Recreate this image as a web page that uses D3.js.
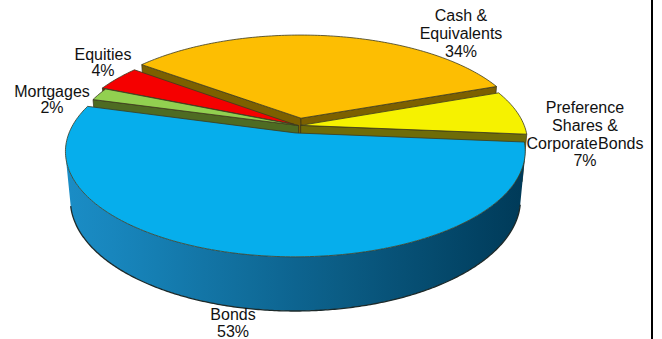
<!DOCTYPE html>
<html><head><meta charset="utf-8">
<script src="https://cdn.jsdelivr.net/npm/d3@7"></script>
<style>html,body{margin:0;padding:0;background:#fff;} svg{display:block}</style>
</head><body><svg id="chart" width="662" height="339"></svg>
<script>
// ---- data ----
const categories = ["Cash & Equivalents", "Preference Shares & Corporate Bonds", "Bonds", "Mortgages", "Equities"];
const values = [34, 7, 53, 2, 4];
const labelLines = [["Cash &", "Equivalents"], ["Preference", "Shares &", "Corporate Bonds"], ["Bonds"], ["Mortgages"], ["Equities"]];

// ---- styles / layout ----
const topColors = ["#FDBE02", "#F6F200", "#06AEEC", "#92D050", "#F50000"];
const faceColors = ["#7C6000", "#6F6C08", "#0A6A98", "#4E6B22", "#6A2400"];
const sideLight = ["#A07C00", "#9A9600", "#1A8DC6", "#5E8A2A", "#A00000"];
const sideDark = ["#5C4600", "#5A5800", "#003A58", "#35501A", "#5A0000"];
const explode = [0.075, 0.01, 0.075, 0.0, 0.02];
const labelAnchors = [[461, 21], [585, 113], [233, 320], [52, 96.5], [103, 59.5]];
const lineStep = [17.8, 17.8, 17, 16.7, 16.5];

const W = 662, H = 339;
const cx0 = 298.5, cy0 = 125.5;
const elev = 26.5 * Math.PI / 180, s = Math.sin(elev), c = Math.cos(elev);
const D = 5.21, F = 1164.6, depth = 0.24;
const startDeg = -52.6;

function proj(x, y, z) {
  const den = D - y * s - z * c;
  return [cx0 + F * x / den, cy0 - F * (y * c - z * s) / den];
}
const cam = [0, D * s, D * c];

const svg = d3.select("#chart");
const defs = svg.append("defs");
svg.append("rect").attr("width", W).attr("height", H).attr("fill", "#fff");

const pie = d3.pie().sort(null)
  .startAngle(startDeg * Math.PI / 180)
  .endAngle(startDeg * Math.PI / 180 + 2 * Math.PI);
const arcs = pie(values).map((a, i) => {
  const mid = (a.startAngle + a.endAngle) / 2;
  const e = explode[i];
  return {i, a0: a.startAngle, a1: a.endAngle, mid, ox: e * Math.sin(mid), oz: -e * Math.cos(mid)};
});

const line = d3.line();
function rim(d, phi, y) { return proj(d.ox + Math.sin(phi), y, d.oz - Math.cos(phi)); }

const order = arcs.slice().sort((p, q) => (p.oz - Math.cos(p.mid)) - (q.oz - Math.cos(q.mid)));
const g = svg.append("g");

order.forEach(d => {
  const sg = g.append("g");
  const h = -depth;
  const apexT = proj(d.ox, 0, d.oz), apexB = proj(d.ox, h, d.oz);
  // radial faces
  const faces = [
    {phi: d.a0, n: [-Math.cos(d.a0), -Math.sin(d.a0)]},
    {phi: d.a1, n: [Math.cos(d.a1), Math.sin(d.a1)]}
  ];
  faces.forEach(f => {
    const vis = f.n[0] * (cam[0] - d.ox) + f.n[1] * (cam[2] - d.oz);
    if (vis > 0) {
      const pts = [apexT, rim(d, f.phi, 0), rim(d, f.phi, h), apexB];
      sg.append("path").attr("d", line(pts) + "Z")
        .attr("fill", faceColors[d.i]).attr("stroke", "#3a3418").attr("stroke-width", 0.7);
    }
  });
  // outer wall: collect visible angle samples
  const steps = Math.max(2, Math.ceil((d.a1 - d.a0) / (Math.PI / 360)));
  const visPhis = [];
  for (let k = 0; k <= steps; k++) {
    const p = d.a0 + (d.a1 - d.a0) * k / steps;
    const px = d.ox + Math.sin(p), pz = d.oz - Math.cos(p);
    const vis = Math.sin(p) * (cam[0] - px) + (-Math.cos(p)) * (cam[2] - pz);
    if (vis > 0) visPhis.push(p);
  }
  if (visPhis.length > 1) {
    const topArc = visPhis.map(p => rim(d, p, 0));
    const botArc = visPhis.map(p => rim(d, p, h));
    const xs = topArc.map(p => p[0]).concat(botArc.map(p => p[0]));
    const x0 = d3.min(xs), x1 = d3.max(xs);
    const gid = "wall" + d.i;
    const grad = defs.append("linearGradient").attr("id", gid)
      .attr("gradientUnits", "userSpaceOnUse").attr("x1", x0).attr("x2", x1).attr("y1", 0).attr("y2", 0);
    const xScale = d3.scaleLinear().domain([cx0 - F / D, cx0 + F / D]).range([0, 1]).clamp(true);
    d3.range(0, 1.0001, 0.1).forEach(t => {
      const x = x0 + (x1 - x0) * t;
      grad.append("stop").attr("offset", t)
        .attr("stop-color", d3.interpolateRgb(sideLight[d.i], sideDark[d.i])(xScale(x)));
    });
    const pts = topArc.concat(botArc.slice().reverse());
    sg.append("path").attr("d", line(pts) + "Z").attr("fill", `url(#${gid})`);
    sg.append("path").attr("d", line(botArc)).attr("fill", "none")
      .attr("stroke", "#1d2a2a").attr("stroke-width", 1.3);
  }
  // top face
  const n = Math.max(4, Math.ceil((d.a1 - d.a0) / (Math.PI / 180)));
  const topPts = [apexT];
  for (let k = 0; k <= n; k++) topPts.push(rim(d, d.a0 + (d.a1 - d.a0) * k / n, 0));
  sg.append("path").attr("d", line(topPts) + "Z")
    .attr("fill", topColors[d.i]).attr("stroke", "#3b3a20").attr("stroke-width", 0.8)
    .attr("stroke-linejoin", "round");
});

// labels
const total = d3.sum(values);
const lg = svg.append("g").attr("font-family", "'Liberation Sans', Arial, sans-serif")
  .attr("font-size", 16).attr("fill", "#111").attr("text-anchor", "middle");
categories.forEach((cat, i) => {
  const lines = labelLines[i].concat([Math.round(values[i] / total * 100) + "%"]);
  const t = lg.append("text").attr("x", labelAnchors[i][0]).attr("y", labelAnchors[i][1]);
  lines.forEach((ln, j) => {
    t.append("tspan").attr("x", labelAnchors[i][0]).attr("dy", j === 0 ? 0 : lineStep[i])
      .attr("word-spacing", ln === "Corporate Bonds" ? -4 : 0).text(ln);
  });
});

// right border
svg.append("line").attr("x1", 652).attr("x2", 652).attr("y1", 0).attr("y2", H)
  .attr("stroke", "#000").attr("stroke-width", 2);
</script></body></html>
